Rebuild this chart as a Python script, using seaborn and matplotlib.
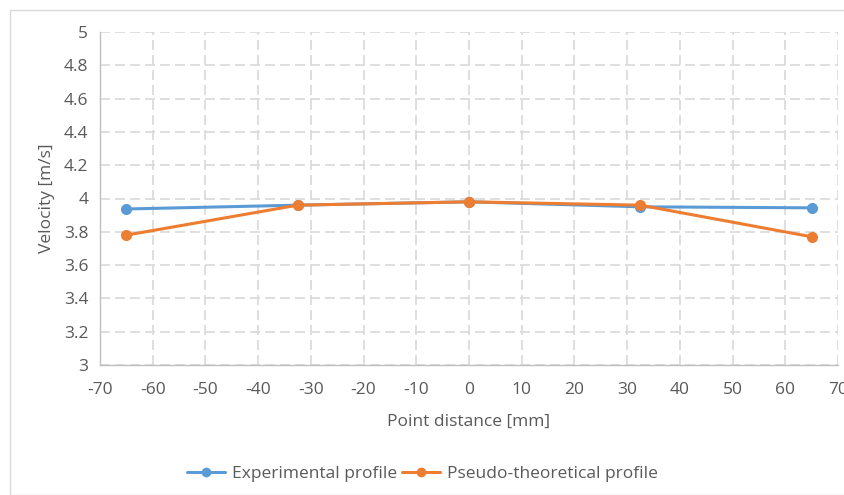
import pandas as pd
import matplotlib.pyplot as plt
import seaborn as sns
from matplotlib.patches import Rectangle

# -----------------------------
# Data
# -----------------------------
distance_mm = [-65, -32.5, 0, 32.5, 65]
experimental = [3.937, 3.96, 3.98, 3.95, 3.944]
pseudo_theoretical = [3.78, 3.96, 3.98, 3.96, 3.77]
series_names = ["Experimental profile", "Pseudo-theoretical profile"]
colors = ["#5B9BD5", "#ED7D31"]

df = pd.DataFrame({
    "distance": distance_mm * 2,
    "velocity": experimental + pseudo_theoretical,
    "profile": [series_names[0]] * len(distance_mm) + [series_names[1]] * len(distance_mm),
})

sns.set_style("white")
plt.rcParams["font.family"] = ["Open Sans", "DejaVu Sans"]
plt.rcParams["axes.unicode_minus"] = False
text_col = "#595959"
grid_col = "#D9D9D9"
fs = 12.5

fig = plt.figure(figsize=(8.45, 4.95), dpi=100)
fig.patches.append(Rectangle((10 / 845, 0), 1, 1 - 10 / 495, transform=fig.transFigure,
                             fill=False, edgecolor="#D9D9D9", linewidth=1))
ax = fig.add_axes([100 / 845, 1 - 365 / 495, 738 / 845, 333 / 495])

sns.lineplot(data=df, x="distance", y="velocity", hue="profile", palette=colors,
             marker="o", markersize=8, markeredgewidth=0, linewidth=2.2, ax=ax, legend=False)

ax.set_xlim(-70, 70)
ax.set_ylim(3, 5)
ax.set_xticks(range(-70, 71, 10))
ax.set_yticks([3 + 0.2 * i for i in range(11)])
ax.set_yticklabels(["3", "3.2", "3.4", "3.6", "3.8", "4", "4.2", "4.4", "4.6", "4.8", "5"])
ax.grid(True, color=grid_col, linestyle=(0, (6, 3)), linewidth=1.2)
ax.set_axisbelow(True)

for s in ["top", "right"]:
    ax.spines[s].set_visible(False)
for s in ["left", "bottom"]:
    ax.spines[s].set_color("#BFBFBF")
    ax.spines[s].set_linewidth(1)
ax.tick_params(axis="y", length=5, color="#BFBFBF", labelsize=fs, labelcolor=text_col)
ax.tick_params(axis="x", length=0, labelsize=fs, labelcolor=text_col, pad=12)

ax.set_xlabel("Point distance [mm]", fontsize=fs, color=text_col, labelpad=12)
ax.set_ylabel("Velocity [m/s]", fontsize=fs, color=text_col, labelpad=6)

handles = [plt.Line2D([], [], color=c, marker="o", markersize=7, markeredgewidth=0, linewidth=2.2)
           for c in colors]
fig.legend(handles, series_names, loc="center", bbox_to_anchor=(0.5, 1 - 474 / 495), ncol=2,
           frameon=False, fontsize=fs, labelcolor=text_col, handlelength=2.2,
           columnspacing=0.3, handletextpad=0.4)

fig.savefig("out.png", dpi=100)
